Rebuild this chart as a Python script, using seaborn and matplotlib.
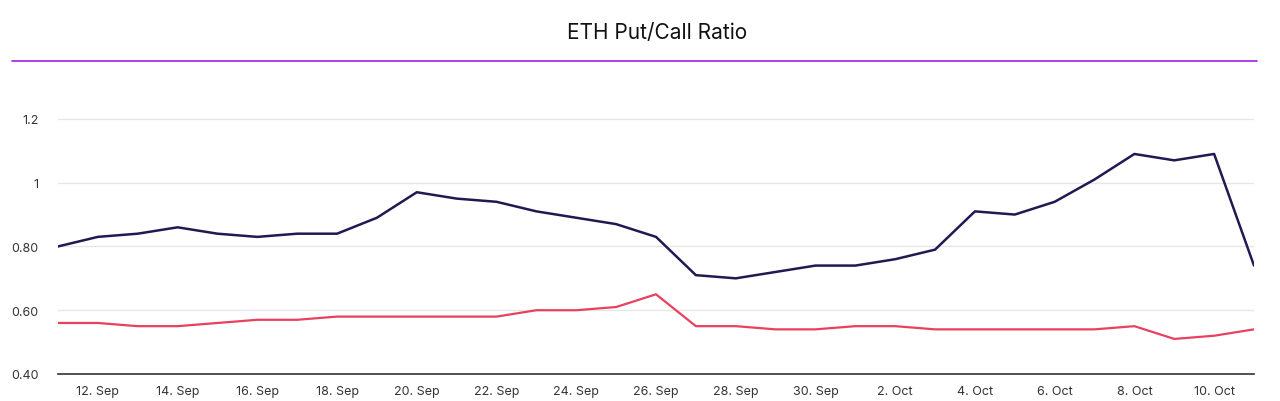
import pandas as pd
import matplotlib
matplotlib.use("Agg")
import matplotlib.pyplot as plt
import matplotlib.dates as mdates
import seaborn as sns

# daily values, 11 Sep -> 11 Oct
dates = pd.date_range("2023-09-11", "2023-10-11", freq="D")
dark_series = [0.80, 0.83, 0.84, 0.86, 0.84, 0.83, 0.84, 0.84, 0.89, 0.97,
               0.95, 0.94, 0.91, 0.89, 0.87, 0.83, 0.71, 0.70, 0.72, 0.74,
               0.74, 0.76, 0.79, 0.91, 0.90, 0.94, 1.01, 1.09, 1.07, 1.09,
               0.74]
pink_series = [0.56, 0.56, 0.55, 0.55, 0.56, 0.57, 0.57, 0.58, 0.58, 0.58,
               0.58, 0.58, 0.60, 0.60, 0.61, 0.65, 0.55, 0.55, 0.54, 0.54,
               0.55, 0.55, 0.54, 0.54, 0.54, 0.54, 0.54, 0.55, 0.51, 0.52,
               0.54]
y_ticks = [0.4, 0.6, 0.8, 1.0, 1.2]
y_labels = ["0.40", "0.60", "0.80", "1", "1.2"]

sns.set_style("white")
plt.rcParams["font.family"] = ["Inter", "DejaVu Sans"]

fig = plt.figure(figsize=(12.8, 4.02), dpi=100)
ax = fig.add_axes([58 / 1280, 1 - 375 / 402, (1254 - 58) / 1280, (375 - 88) / 402])

df = pd.DataFrame({"date": dates, "dark": dark_series, "pink": pink_series})
sns.lineplot(data=df, x="date", y="dark", ax=ax, color="#1f1a52", linewidth=1.8)
sns.lineplot(data=df, x="date", y="pink", ax=ax, color="#e8415f", linewidth=1.6)

ax.set_xlim(dates[0], dates[-1])
ax.set_ylim(0.4, 1.3)
ax.set_yticks(y_ticks)
ax.set_yticklabels(y_labels)
ax.xaxis.set_major_locator(mdates.DayLocator(bymonthday=range(2, 31, 2)))
ax.xaxis.set_major_formatter(mdates.DateFormatter("%-d. %b"))
ax.set_xlabel("")
ax.set_ylabel("")
ax.grid(axis="y", color="#e6e6e6", linewidth=1)
ax.tick_params(axis="both", length=0, labelsize=9, colors="#333333", pad=8)
ax.tick_params(axis="y", pad=14)
for side in ["top", "right", "left"]:
    ax.spines[side].set_visible(False)
ax.spines["bottom"].set_color("#333333")
ax.spines["bottom"].set_linewidth(1.2)

fig.text(657 / 1280, 1 - 33 / 402, "ETH Put/Call Ratio", ha="center", va="center",
         fontsize=15, color="#111111")
fig.add_artist(plt.Line2D([12 / 1280, 1257 / 1280], [1 - 62 / 402, 1 - 62 / 402],
                          color="#a21fe0", linewidth=1.2))

fig.savefig("out.png", dpi=100)
